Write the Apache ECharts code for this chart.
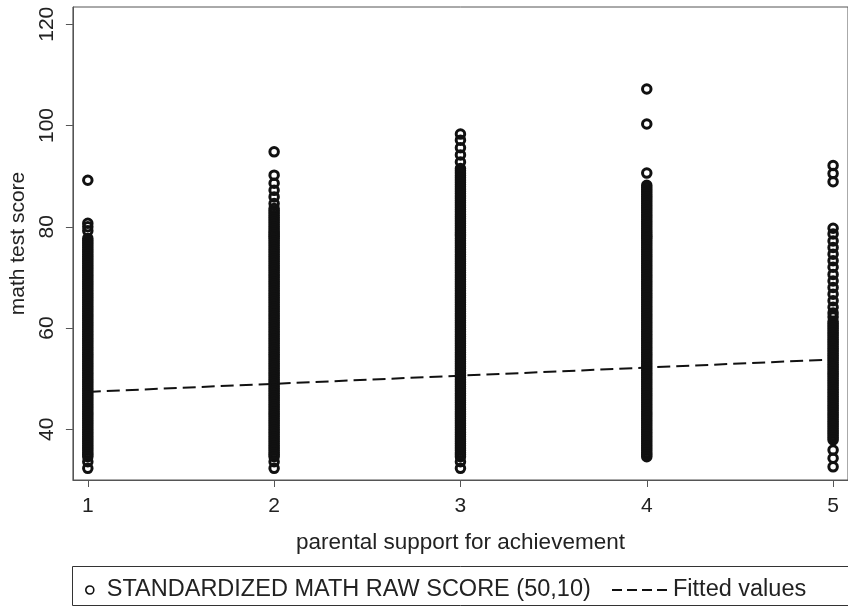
<!DOCTYPE html>
<html>
<head>
<meta charset="utf-8">
<script src="https://cdn.jsdelivr.net/npm/echarts@6/dist/echarts.min.js"></script>
<style>
html,body{margin:0;padding:0;background:#fff;}
#main{width:848px;height:609px;}
</style>
</head>
<body>
<div id="main"></div>
<script>
// ---- data ----
const xCategories = [1, 2, 3, 4, 5];
const xTickLabels = ['1', '2', '3', '4', '5'];
const yTickValues = [40, 60, 80, 100, 120];

const scores1 = [89.2, 80.7, 80.0, 79.2, 77.7, 77.25, 76.8, 76.35, 75.9, 75.45, 75.0, 74.55, 74.1, 73.65, 73.2, 72.75, 72.3, 71.85, 71.4, 70.95, 70.5, 70.05, 69.6, 69.15, 68.7, 68.25, 67.8, 67.35, 66.9, 66.45, 66.0, 65.55, 65.1, 64.65, 64.2, 63.75, 63.3, 62.85, 62.4, 61.95, 61.5, 61.05, 60.6, 60.15, 59.7, 59.25, 58.8, 58.35, 57.9, 57.45, 57.0, 56.55, 56.1, 55.65, 55.2, 54.75, 54.3, 53.85, 53.4, 52.95, 52.5, 52.05, 51.6, 51.15, 50.7, 50.25, 49.8, 49.35, 48.9, 48.45, 48.0, 47.55, 47.1, 46.65, 46.2, 45.75, 45.3, 44.85, 44.4, 43.95, 43.5, 43.05, 42.6, 42.15, 41.7, 41.25, 40.8, 40.35, 39.9, 39.45, 39.0, 38.55, 38.1, 37.65, 37.2, 36.75, 36.3, 35.85, 35.4, 35.0, 34.6, 33.6, 32.3];
const scores2 = [94.8, 90.2, 88.6, 87.2, 85.9, 84.6, 83.6, 83.15, 82.7, 82.25, 81.8, 81.35, 80.9, 80.45, 80.0, 79.55, 79.1, 78.75, 78.4, 78.05, 77.7, 77.25, 76.8, 76.35, 75.9, 75.45, 75.0, 74.55, 74.1, 73.65, 73.2, 72.75, 72.3, 71.85, 71.4, 70.95, 70.5, 70.05, 69.6, 69.15, 68.7, 68.25, 67.8, 67.35, 66.9, 66.45, 66.0, 65.55, 65.1, 64.65, 64.2, 63.75, 63.3, 62.85, 62.4, 61.95, 61.5, 61.05, 60.6, 60.15, 59.7, 59.25, 58.8, 58.35, 57.9, 57.45, 57.0, 56.55, 56.1, 55.65, 55.2, 54.75, 54.3, 53.85, 53.4, 52.95, 52.5, 52.05, 51.6, 51.15, 50.7, 50.25, 49.8, 49.35, 48.9, 48.45, 48.0, 47.55, 47.1, 46.65, 46.2, 45.75, 45.3, 44.85, 44.4, 43.95, 43.5, 43.05, 42.6, 42.15, 41.7, 41.25, 40.8, 40.35, 39.9, 39.45, 39.0, 38.55, 38.1, 37.65, 37.2, 36.75, 36.3, 35.85, 35.4, 35.0, 34.6, 33.6, 32.3];
const scores3 = [98.3, 97.1, 95.6, 94.2, 92.8, 91.5, 91.05, 90.6, 90.15, 89.7, 89.25, 88.8, 88.35, 87.9, 87.45, 87.0, 86.55, 86.1, 85.65, 85.2, 84.75, 84.3, 83.85, 83.4, 82.95, 82.5, 82.05, 81.6, 81.15, 80.7, 80.25, 79.8, 79.35, 78.9, 78.55, 78.2, 77.7, 77.25, 76.8, 76.35, 75.9, 75.45, 75.0, 74.55, 74.1, 73.65, 73.2, 72.75, 72.3, 71.85, 71.4, 70.95, 70.5, 70.05, 69.6, 69.15, 68.7, 68.25, 67.8, 67.35, 66.9, 66.45, 66.0, 65.55, 65.1, 64.65, 64.2, 63.75, 63.3, 62.85, 62.4, 61.95, 61.5, 61.05, 60.6, 60.15, 59.7, 59.25, 58.8, 58.35, 57.9, 57.45, 57.0, 56.55, 56.1, 55.65, 55.2, 54.75, 54.3, 53.85, 53.4, 52.95, 52.5, 52.05, 51.6, 51.15, 50.7, 50.25, 49.8, 49.35, 48.9, 48.45, 48.0, 47.55, 47.1, 46.65, 46.2, 45.75, 45.3, 44.85, 44.4, 43.95, 43.5, 43.05, 42.6, 42.15, 41.7, 41.25, 40.8, 40.35, 39.9, 39.45, 39.0, 38.55, 38.1, 37.65, 37.2, 36.75, 36.3, 35.85, 35.4, 35.0, 34.6, 33.6, 32.3];
const scores4 = [107.2, 100.3, 90.6, 88.2, 87.75, 87.3, 86.85, 86.4, 85.95, 85.5, 85.05, 84.6, 84.15, 83.7, 83.25, 82.8, 82.35, 81.9, 81.45, 81.0, 80.55, 80.1, 79.65, 79.2, 78.8, 78.4, 78.05, 77.7, 77.25, 76.8, 76.35, 75.9, 75.45, 75.0, 74.55, 74.1, 73.65, 73.2, 72.75, 72.3, 71.85, 71.4, 70.95, 70.5, 70.05, 69.6, 69.15, 68.7, 68.25, 67.8, 67.35, 66.9, 66.45, 66.0, 65.55, 65.1, 64.65, 64.2, 63.75, 63.3, 62.85, 62.4, 61.95, 61.5, 61.05, 60.6, 60.15, 59.7, 59.25, 58.8, 58.35, 57.9, 57.45, 57.0, 56.55, 56.1, 55.65, 55.2, 54.75, 54.3, 53.85, 53.4, 52.95, 52.5, 52.05, 51.6, 51.15, 50.7, 50.25, 49.8, 49.35, 48.9, 48.45, 48.0, 47.55, 47.1, 46.65, 46.2, 45.75, 45.3, 44.85, 44.4, 43.95, 43.5, 43.05, 42.6, 42.15, 41.7, 41.25, 40.8, 40.35, 39.9, 39.45, 39.0, 38.55, 38.1, 37.65, 37.2, 36.75, 36.3, 35.85, 35.4, 35.0, 34.6];
const scores5 = [92.1, 90.5, 88.9, 79.7, 78.6, 77.2, 75.9, 74.6, 73.3, 72.0, 70.6, 69.3, 68.0, 66.7, 65.4, 64.1, 63.0, 62.2, 61.3, 60.85, 60.4, 59.95, 59.5, 59.05, 58.6, 58.15, 57.7, 57.25, 56.8, 56.35, 55.9, 55.45, 55.0, 54.55, 54.1, 53.65, 53.2, 52.75, 52.3, 51.85, 51.4, 50.95, 50.5, 50.05, 49.6, 49.15, 48.7, 48.25, 47.8, 47.35, 46.9, 46.45, 46.0, 45.55, 45.1, 44.65, 44.2, 43.75, 43.3, 42.85, 42.4, 41.95, 41.5, 41.05, 40.6, 40.15, 39.7, 39.25, 38.8, 38.35, 37.9, 35.9, 34.3, 32.6];
const fittedValues = [47.4, 49.0, 50.6, 52.2, 53.8];

const scatterName = 'STANDARDIZED MATH RAW SCORE (50,10)';
const fitName = 'Fitted values';

// ---- build ----
const allScores = [scores1, scores2, scores3, scores4, scores5];
const scatterData = [];
allScores.forEach((arr, i) => arr.forEach(v => scatterData.push([xCategories[i], v])));
const fitData = xCategories.map((x, i) => [x, fittedValues[i]]);

const FONT = 'Liberation Sans, Arial, sans-serif';
const INK = '#111111';
const chart = echarts.init(document.getElementById('main'), null, {renderer: 'canvas'});
chart.setOption({
  animation: false,
  backgroundColor: '#ffffff',
  grid: {left: 72, top: 7, width: 783, height: 473, show: true, borderColor: '#555', borderWidth: 1, backgroundColor: 'transparent'},
  xAxis: {
    type: 'value', min: 0.92, max: 5.08,
    name: 'parental support for achievement', nameLocation: 'middle', nameGap: 51,
    nameTextStyle: {fontFamily: FONT, fontSize: 22.5, color: '#222'},
    axisLine: {show: true, lineStyle: {color: '#555', width: 1}},
    axisTick: {show: true, length: 7, lineStyle: {color: '#555'}, customValues: xCategories},
    axisLabel: {fontFamily: FONT, fontSize: 21, color: '#222', margin: 16, customValues: xCategories,
      formatter: v => xTickLabels[xCategories.indexOf(v)] ?? ''},
    splitLine: {show: false}
  },
  yAxis: {
    type: 'value', min: 30, max: 123.4,
    name: 'math test score', nameLocation: 'middle', nameGap: 41, nameRotate: 90,
    nameTextStyle: {fontFamily: FONT, fontSize: 21, color: '#222'},
    axisLine: {show: true, lineStyle: {color: '#555', width: 1}},
    axisTick: {show: true, length: 7, lineStyle: {color: '#555'}, customValues: yTickValues},
    axisLabel: {fontFamily: FONT, fontSize: 21, color: '#222', margin: 15, rotate: 90, customValues: yTickValues},
    splitLine: {show: false}
  },
  legend: [
    {data: [scatterName], left: 80, top: 573, itemWidth: 8, itemHeight: 8, itemGap: 10,
     itemStyle: {borderWidth: 1.6},
     textStyle: {fontFamily: FONT, fontSize: 23.5, color: '#222', padding: [0, 0, 0, 8]}},
    {data: [fitName], left: 606, top: 573, itemWidth: 56, itemHeight: 10,
     itemStyle: {opacity: 0},
     lineStyle: {width: 2, type: [10, 5], color: INK},
     textStyle: {fontFamily: FONT, fontSize: 23.5, color: '#222'}}
  ],
  graphic: [
    {type: 'rect', shape: {x: 72.5, y: 566.5, width: 800, height: 39}, style: {fill: 'none', stroke: '#333', lineWidth: 1}, silent: true}
  ],
  series: [
    {name: scatterName, type: 'scatter', data: scatterData, symbol: 'circle', symbolSize: 8.5,
     itemStyle: {color: 'rgba(255,255,255,0)', borderColor: INK, borderWidth: 3, opacity: 1}, z: 2},
    {name: fitName, type: 'line', data: fitData, symbol: 'none', showSymbol: false,
     itemStyle: {color: INK},
     lineStyle: {color: INK, width: 2, type: [13, 6]}, z: 3}
  ]
});
</script>
</body>
</html>
